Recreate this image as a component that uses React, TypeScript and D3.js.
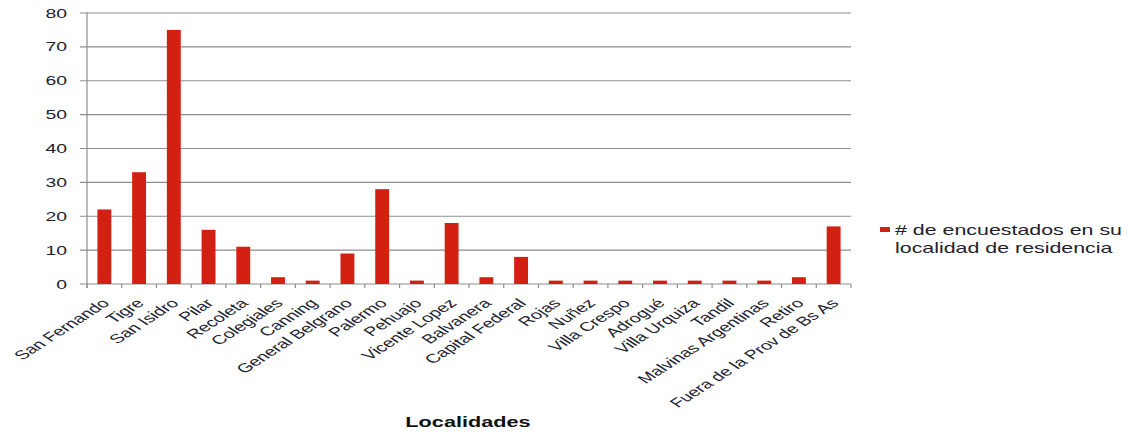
import React from "react";
import * as d3 from "d3";

const categories = [
  "San Fernando", "Tigre", "San Isidro", "Pilar", "Recoleta", "Colegiales",
  "Canning", "General Belgrano", "Palermo", "Pehuajo", "Vicente Lopez",
  "Balvanera", "Capital Federal", "Rojas", "Nuñez", "Villa Crespo", "Adrogué",
  "Villa Urquiza", "Tandil", "Malvinas Argentinas", "Retiro",
  "Fuera de la Prov de Bs As",
];
const values = [22, 33, 75, 16, 11, 2, 1, 9, 28, 1, 18, 2, 8, 1, 1, 1, 1, 1, 1, 1, 2, 17];
const yTicks = [0, 10, 20, 30, 40, 50, 60, 70, 80];
const seriesName = ["# de encuestados en su", "localidad de residencia"];
const xTitle = "Localidades";

const W = 1131;
const H = 434;
const SX = 1.55; // horizontal stretch of the original picture
const FONT = "'Liberation Sans', Arial, sans-serif";
const TEXT = "#22222e";
const RED = "#d42012";
const GRID = "#8e8e8e";

export default function App() {
  const left = 87, right = 851, top = 13, bottom = 284;
  const x = d3.scaleBand<string>().domain(categories).range([left, right]).paddingInner(0.6).paddingOuter(0.3);
  const y = d3.scaleLinear().domain([0, 80]).range([bottom, top]);
  const step = x.step();
  const boundaries = d3.range(categories.length + 1).map((i) => left + i * step);

  return (
    <svg width={W} height={H} style={{ position: "absolute", left: 0, top: 0, background: "#fff" }} fontFamily={FONT}>
      {yTicks.map((t) => (
        <line key={"g" + t} x1={left - 7} x2={right} y1={y(t)} y2={y(t)} stroke={GRID} strokeWidth={1.2} />
      ))}
      <line x1={left} x2={left} y1={top - 1} y2={bottom + 4} stroke={GRID} strokeWidth={1.2} />
      {boundaries.map((bx, i) => (
        <line key={"t" + i} x1={bx} x2={bx} y1={bottom} y2={bottom + 4} stroke={GRID} strokeWidth={1.2} />
      ))}
      {categories.map((c, i) => (
        <rect key={c} x={x(c)} y={y(values[i])} width={x.bandwidth()} height={bottom - y(values[i])} fill={RED} />
      ))}
      {yTicks.map((t) => (
        <text key={"l" + t} transform={`translate(67,${y(t) + 4.5}) scale(${SX},1)`} textAnchor="end" fontSize={12.5} fill={TEXT}>
          {t}
        </text>
      ))}
      {categories.map((c) => (
        <text
          key={"c" + c}
          transform={`translate(${(x(c) ?? 0) + x.bandwidth() / 2 + 6},${bottom + 20}) scale(${SX},1) rotate(-45)`}
          textAnchor="end"
          fontSize={12.7}
          fill={TEXT}
        >
          {c}
        </text>
      ))}
      <text transform={`translate(468,427) scale(${SX},1)`} textAnchor="middle" fontSize={14} fontWeight="bold" fill="#111">
        {xTitle}
      </text>
      <rect x={880} y={227} width={10} height={5} fill={RED} />
      {seriesName.map((s, i) => (
        <text key={"s" + i} transform={`translate(895,${235 + i * 18}) scale(${SX},1)`} fontSize={13.8} fill={TEXT}>
          {s}
        </text>
      ))}
    </svg>
  );
}
